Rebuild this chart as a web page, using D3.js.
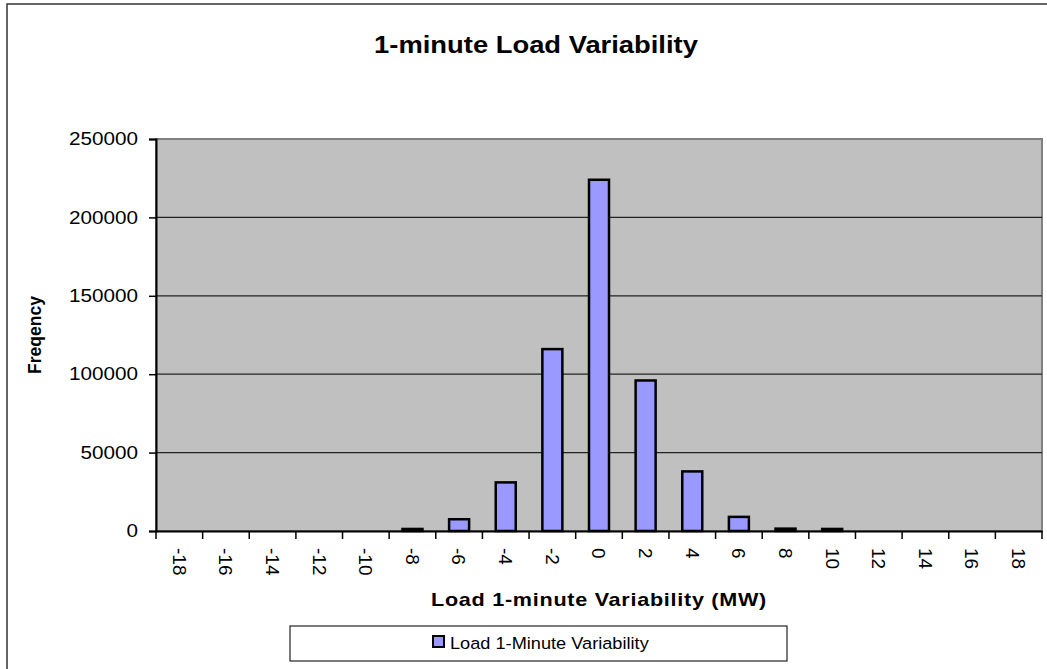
<!DOCTYPE html>
<html><head><meta charset="utf-8">
<script src="https://cdn.jsdelivr.net/npm/d3@7"></script>
<style>body{margin:0;background:#fff}svg{display:block}</style>
</head><body>
<svg id="c" width="1047" height="669"></svg>
<script>
const categories = [-18,-16,-14,-12,-10,-8,-6,-4,-2,0,2,4,6,8,10,12,14,16,18];
const frequency  = [0,0,0,0,0,1300,7500,31000,116000,224000,96000,38000,9000,1500,1300,0,0,0,0];
const yTicks = [0,50000,100000,150000,200000,250000];
const title = "1-minute Load Variability";
const xTitle = "Load 1-minute Variability (MW)";
const yTitle = "Freqency";
const seriesName = "Load 1-Minute Variability";

const svg = d3.select("#c");
const font = "Arial, 'Liberation Sans', sans-serif";
const L = 156, R = 1042, T = 139, B = 531;

svg.append("rect").attr("x",7).attr("y",4).attr("width",1060).attr("height",700)
  .attr("fill","#fff").attr("stroke","#333").attr("stroke-width",1.5);

const x = d3.scaleBand().domain(categories).range([L,R]).padding(0);
const y = d3.scaleLinear().domain([0,250000]).range([B,T]);

svg.append("rect").attr("x",L).attr("y",T).attr("width",R-L).attr("height",B-T)
  .attr("fill","#C0C0C0").attr("stroke","#808080").attr("stroke-width",2);

// gridlines
svg.append("g").selectAll("line").data(yTicks.filter(d=>d>0 && d<250000)).join("line")
  .attr("x1",L).attr("x2",R).attr("y1",d=>y(d)).attr("y2",d=>y(d))
  .attr("stroke","#222").attr("stroke-width",1.2);

// bars
const bw = 20;
svg.append("g").selectAll("rect").data(categories.map((c,i)=>({c,v:frequency[i]}))).join("rect")
  .filter(d=>d.v>0)
  .attr("x",d=>x(d.c)+x.bandwidth()/2-bw/2).attr("width",bw)
  .attr("y",d=>y(d.v)).attr("height",d=>B-y(d.v))
  .attr("fill","#9999FF").attr("stroke","#000").attr("stroke-width",2.5);

// y axis
const yAxis = svg.append("g").attr("transform",`translate(${L},0)`)
  .call(d3.axisLeft(y).tickValues(yTicks).tickSize(7).tickPadding(8).tickFormat(d3.format("d")));
yAxis.select(".domain").attr("stroke","#000").attr("stroke-width",2);
yAxis.selectAll(".tick line").attr("stroke","#000").attr("stroke-width",1.5);
yAxis.selectAll("text").attr("font-family",font).attr("font-size",18).attr("fill","#000")
  .attr("x",0).attr("transform","translate(-18,0) scale(1.15,1)");

// x axis
const xAxis = svg.append("g").attr("transform",`translate(0,${B})`)
  .call(d3.axisBottom(x).tickSize(0).tickFormat(d=>String(d)));
xAxis.select(".domain").attr("stroke","#000").attr("stroke-width",2);
xAxis.selectAll(".tick text")
  .attr("font-family",font).attr("font-size",19).attr("fill","#000")
  .attr("transform","translate(0,17) rotate(90)").attr("text-anchor","start")
  .attr("dy","0.35em").attr("x",0).attr("y",0);
// tick marks at band boundaries
svg.append("g").selectAll("line").data(categories.concat(["end"])).join("line")
  .attr("x1",(d,i)=>L+i*x.step()).attr("x2",(d,i)=>L+i*x.step())
  .attr("y1",B).attr("y2",B+8).attr("stroke","#000").attr("stroke-width",1.5);

// titles
svg.append("text").attr("transform","translate(536,53) scale(1.19,1)").attr("text-anchor","middle")
  .attr("font-family",font).attr("font-weight","bold").attr("font-size",23).text(title);
svg.append("text").attr("transform","translate(599,606) scale(1.2,1)").attr("text-anchor","middle")
  .attr("font-family",font).attr("font-weight","bold").attr("font-size",18).attr("letter-spacing",0.6).text(xTitle);
svg.append("text").attr("transform","translate(41,335) rotate(-90)").attr("text-anchor","middle")
  .attr("font-family",font).attr("font-weight","bold").attr("font-size",17.5).text(yTitle);

// legend
svg.append("rect").attr("x",290).attr("y",626).attr("width",497).attr("height",35)
  .attr("fill","#fff").attr("stroke","#222").attr("stroke-width",1.2);
svg.append("rect").attr("x",433).attr("y",636).attr("width",11).attr("height",11)
  .attr("fill","#9999FF").attr("stroke","#000").attr("stroke-width",2);
svg.append("text").attr("transform","translate(450,649) scale(1.07,1)").attr("font-family",font).attr("font-size",17)
  .text(seriesName);
</script>
</body></html>
